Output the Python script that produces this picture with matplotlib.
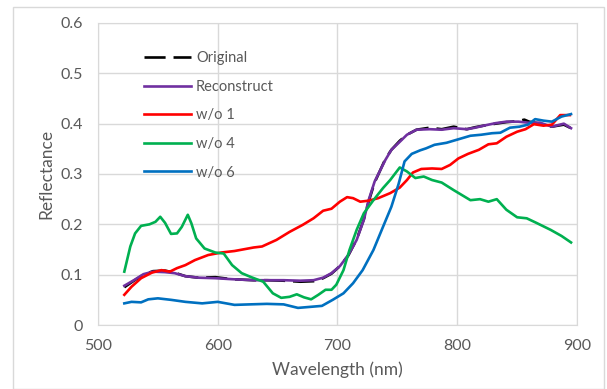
import matplotlib.pyplot as plt
from matplotlib.patches import Rectangle

# wavelength (nm) / reflectance readings for each curve
wl_orig = [522, 530, 538, 546, 556, 564, 573, 584, 598, 612, 630, 641, 655, 669, 680, 688,
           695, 702, 709, 716, 722, 726, 731, 740, 745, 752, 758, 766, 777, 787, 797, 808,
           815, 822, 832, 841, 851, 856, 860, 869, 879, 889, 895]
orig = [0.075, 0.088, 0.100, 0.107, 0.108, 0.104, 0.097, 0.094, 0.095, 0.091, 0.089, 0.089,
        0.088, 0.086, 0.087, 0.093, 0.102, 0.117, 0.138, 0.170, 0.210, 0.245, 0.283, 0.330,
        0.348, 0.366, 0.378, 0.388, 0.392, 0.389, 0.394, 0.389, 0.393, 0.396, 0.400, 0.403,
        0.405, 0.408, 0.404, 0.400, 0.394, 0.398, 0.391]

wl_rec = [522, 530, 538, 546, 556, 564, 573, 584, 598, 612, 630, 641, 655, 669, 680, 688,
          695, 702, 709, 716, 722, 726, 731, 740, 745, 752, 758, 766, 777, 787, 797, 808,
          815, 822, 832, 841, 851, 859, 869, 879, 889, 895]
rec = [0.078, 0.089, 0.101, 0.106, 0.105, 0.103, 0.097, 0.094, 0.093, 0.091, 0.089, 0.089,
       0.089, 0.088, 0.089, 0.094, 0.103, 0.117, 0.139, 0.169, 0.209, 0.248, 0.285, 0.328,
       0.348, 0.364, 0.378, 0.388, 0.389, 0.388, 0.391, 0.389, 0.392, 0.396, 0.401, 0.404,
       0.404, 0.402, 0.402, 0.394, 0.400, 0.391]

wl_wo1 = [522, 528, 536, 545, 553, 560, 566, 573, 581, 592, 603, 614, 630, 637, 649, 660,
          671, 680, 688, 695, 702, 708, 713, 719, 726, 734, 744, 752, 758, 763, 770, 779,
          787, 794, 801, 809, 818, 826, 833, 841, 850, 857, 864, 872, 879, 886, 894]
wo1 = [0.060, 0.076, 0.093, 0.104, 0.109, 0.106, 0.113, 0.119, 0.129, 0.139, 0.144, 0.147,
       0.154, 0.156, 0.169, 0.185, 0.199, 0.212, 0.227, 0.231, 0.245, 0.254, 0.252, 0.245,
       0.247, 0.252, 0.262, 0.273, 0.288, 0.303, 0.310, 0.311, 0.310, 0.318, 0.331, 0.340,
       0.348, 0.359, 0.361, 0.374, 0.384, 0.389, 0.399, 0.396, 0.398, 0.417, 0.417]

wl_wo4 = [522, 527, 531, 536, 543, 548, 552, 556, 561, 566, 570, 575, 578, 582, 589, 598,
          605, 612, 620, 628, 638, 646, 653, 660, 666, 672, 678, 684, 690, 695, 699, 705,
          710, 716, 722, 730, 738, 744, 752, 758, 765, 772, 779, 787, 797, 804, 811, 819,
          826, 833, 841, 850, 858, 866, 878, 887, 895]
wo4 = [0.106, 0.156, 0.182, 0.197, 0.200, 0.205, 0.215, 0.203, 0.181, 0.182, 0.195, 0.219,
       0.202, 0.172, 0.152, 0.144, 0.142, 0.119, 0.103, 0.095, 0.086, 0.063, 0.054, 0.056,
       0.061, 0.055, 0.051, 0.060, 0.070, 0.070, 0.080, 0.109, 0.149, 0.189, 0.222, 0.248,
       0.272, 0.288, 0.313, 0.305, 0.292, 0.295, 0.288, 0.283, 0.268, 0.258, 0.248, 0.250,
       0.245, 0.250, 0.229, 0.214, 0.212, 0.203, 0.189, 0.177, 0.164]

wl_wo6 = [522, 528, 536, 542, 550, 561, 573, 587, 600, 614, 627, 641, 655, 667, 677, 687,
          696, 705, 713, 721, 730, 738, 745, 751, 756, 762, 769, 774, 781, 791, 801, 811,
          820, 829, 836, 844, 852, 859, 865, 872, 879, 887, 895]
wo6 = [0.043, 0.046, 0.045, 0.051, 0.053, 0.050, 0.046, 0.043, 0.046, 0.040, 0.041, 0.042,
       0.041, 0.034, 0.036, 0.038, 0.050, 0.063, 0.083, 0.109, 0.149, 0.195, 0.235, 0.280,
       0.325, 0.340, 0.347, 0.351, 0.358, 0.362, 0.369, 0.376, 0.378, 0.381, 0.382, 0.392,
       0.394, 0.398, 0.409, 0.406, 0.404, 0.414, 0.419]

plt.rcParams['font.family'] = ['Lato', 'DejaVu Sans']

fig = plt.figure(figsize=(6.07, 3.89), dpi=100)
ax = fig.add_axes([0.1614, 0.1645, 0.7892, 0.7764])
fig.patches.append(Rectangle((0.021, 0.0), 0.974, 0.982, transform=fig.transFigure,
                             fill=False, edgecolor='#D9D9D9', linewidth=1))

ax.plot(wl_orig, orig, color='black', lw=1.9, dashes=(8, 3), label='Original')
ax.plot(wl_rec, rec, color='#7030A0', lw=1.9, label='Reconstruct')
ax.plot(wl_wo1, wo1, color='#FF0000', lw=1.9, label='w/o 1')
ax.plot(wl_wo4, wo4, color='#00B050', lw=1.9, label='w/o 4')
ax.plot(wl_wo6, wo6, color='#0070C0', lw=1.9, label='w/o 6')

ax.set_xlim(500, 900)
ax.set_ylim(0, 0.6)
ax.set_xticks([500, 600, 700, 800, 900])
ax.set_yticks([0, 0.1, 0.2, 0.3, 0.4, 0.5, 0.6])
ax.set_yticklabels(['0', '0.1', '0.2', '0.3', '0.4', '0.5', '0.6'])
ax.grid(True, color='#D9D9D9', lw=1)
ax.set_axisbelow(True)
for s in ax.spines.values():
    s.set_color('#D9D9D9')
ax.tick_params(length=0, labelsize=11.5, colors='#595959')
ax.tick_params(axis='y', pad=11)
ax.tick_params(axis='x', pad=10)
ax.set_xlabel('Wavelength (nm)', fontsize=12.5, color='#595959', labelpad=6)
ax.set_ylabel('Reflectance', fontsize=12.5, color='#595959', labelpad=4)

leg = ax.legend(loc='upper left', bbox_to_anchor=(0.069, 0.95), frameon=False,
                fontsize=10.5, handlelength=3.2, handletextpad=0.35, labelspacing=1.0)
for t in leg.get_texts():
    t.set_color('#595959')

fig.savefig('out.png', dpi=100)
